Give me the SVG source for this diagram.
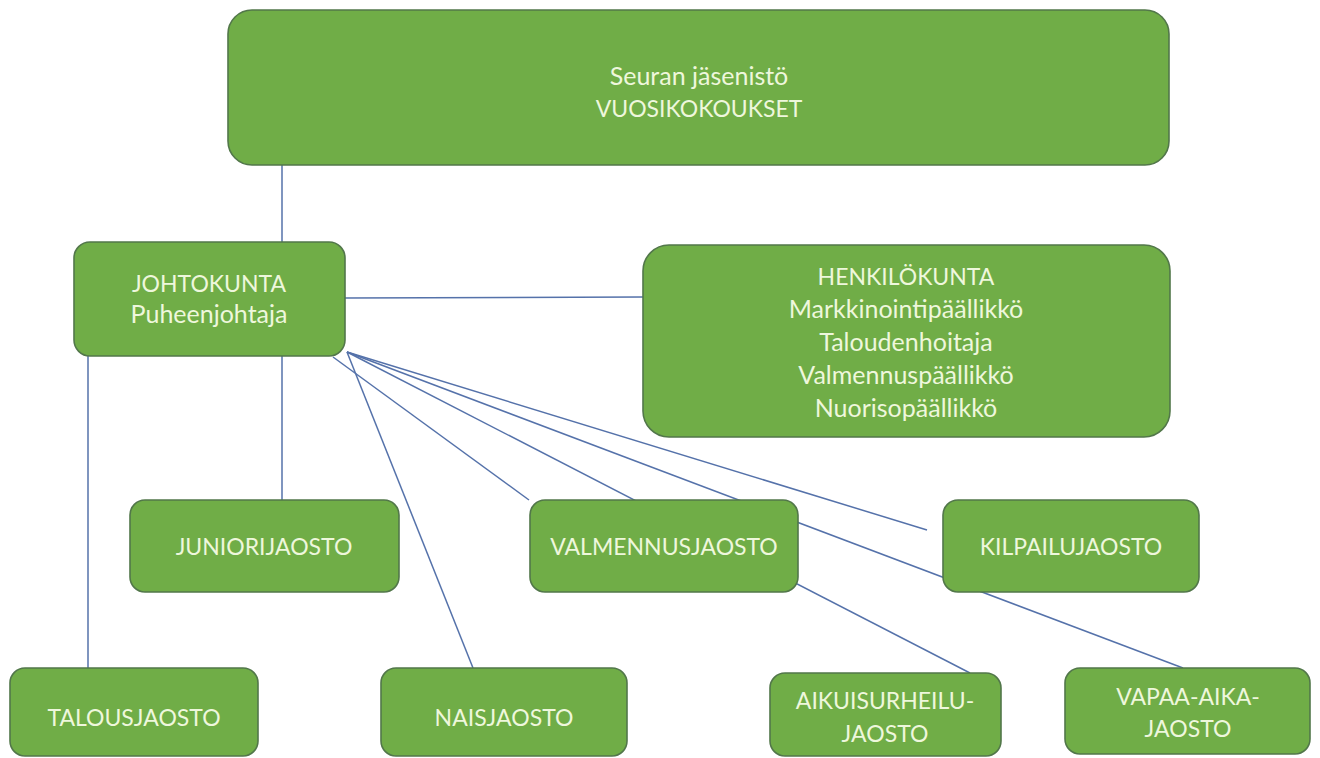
<svg xmlns="http://www.w3.org/2000/svg" width="1320" height="758" viewBox="0 0 1320 758">
<style>
.box{fill:#70ad47;stroke:#52774a;stroke-width:1.6}
.t{font-family:"Lato","Liberation Sans",sans-serif;font-size:25px;fill:#eef7dc;text-anchor:middle}
.u{font-size:23px}
.c{stroke:#5572aa;stroke-width:1.5;fill:none}
</style>
<rect width="1320" height="758" fill="#ffffff"/>
<g id="connectors">
<line class="c" x1="282" y1="165" x2="282" y2="242"/>
<line class="c" x1="345" y1="298" x2="643" y2="297"/>
<line class="c" x1="88" y1="356" x2="88" y2="668"/>
<line class="c" x1="282" y1="356" x2="282" y2="500"/>
<line class="c" x1="347" y1="352" x2="473" y2="668"/>
<line class="c" x1="333" y1="357" x2="529" y2="500"/>
<line class="c" x1="347" y1="352" x2="970" y2="673"/>
<line class="c" x1="347" y1="352" x2="1183" y2="668"/>
<line class="c" x1="347" y1="352" x2="927" y2="530"/>
</g>
<g id="n-seura">
<rect class="box" x="228" y="10" width="941" height="155" rx="24"/>
<text class="t" x="699" y="85">Seuran jäsenistö</text>
<text class="t u" x="699" y="117">VUOSIKOKOUKSET</text>
</g>
<g id="n-johtokunta">
<rect class="box" x="74" y="242" width="271" height="114" rx="16"/>
<text class="t u" x="209" y="292">JOHTOKUNTA</text>
<text class="t" x="209" y="323">Puheenjohtaja</text>
</g>
<g id="n-henkilokunta">
<rect class="box" x="643" y="245" width="527" height="192" rx="26"/>
<text class="t u" x="906" y="285">HENKILÖKUNTA</text>
<text class="t" x="906" y="318">Markkinointipäällikkö</text>
<text class="t" x="906" y="351">Taloudenhoitaja</text>
<text class="t" x="906" y="384">Valmennuspäällikkö</text>
<text class="t" x="906" y="417">Nuorisopäällikkö</text>
</g>
<g id="n-juniori">
<rect class="box" x="130" y="500" width="269" height="92" rx="15"/>
<text class="t u" x="264" y="555">JUNIORIJAOSTO</text>
</g>
<g id="n-valmennus">
<rect class="box" x="530" y="500" width="268" height="92" rx="15"/>
<text class="t u" x="664" y="555">VALMENNUSJAOSTO</text>
</g>
<g id="n-kilpailu">
<rect class="box" x="943" y="500" width="256" height="92" rx="15"/>
<text class="t u" x="1071" y="555">KILPAILUJAOSTO</text>
</g>
<g id="n-talous">
<rect class="box" x="10" y="668" width="248" height="88" rx="15"/>
<text class="t u" x="134" y="726">TALOUSJAOSTO</text>
</g>
<g id="n-nais">
<rect class="box" x="381" y="668" width="246" height="88" rx="15"/>
<text class="t u" x="504" y="726">NAISJAOSTO</text>
</g>
<g id="n-aikuis">
<rect class="box" x="770" y="673" width="231" height="83" rx="15"/>
<text class="t u" x="885" y="709">AIKUISURHEILU-</text>
<text class="t u" x="885" y="742">JAOSTO</text>
</g>
<g id="n-vapaa">
<rect class="box" x="1065" y="668" width="245" height="86" rx="15"/>
<text class="t u" x="1188" y="705">VAPAA-AIKA-</text>
<text class="t u" x="1188" y="737">JAOSTO</text>
</g>
</svg>
